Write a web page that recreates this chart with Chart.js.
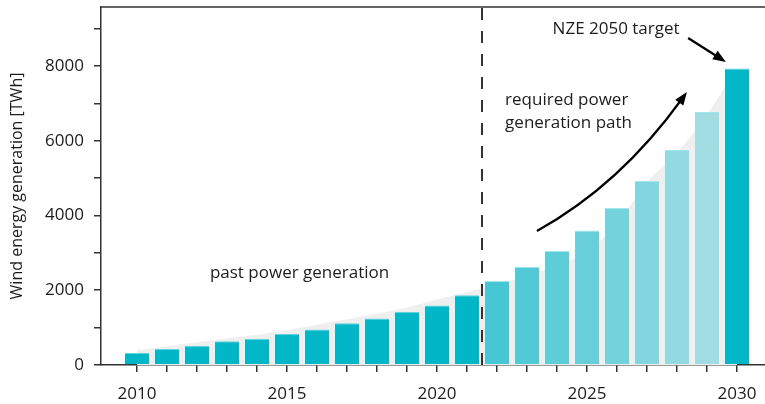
<!DOCTYPE html>
<html>
<head>
<meta charset="utf-8">
<script src="https://cdn.jsdelivr.net/npm/chart.js@4.4.1/dist/chart.umd.min.js"></script>
<style>
  html, body { margin: 0; padding: 0; background: #fff; }
  #wrap { width: 765px; height: 404px; }
</style>
</head>
<body>
<div id="wrap"><canvas id="chart"></canvas></div>
<script>
"use strict"

// wind generation per year, TWh (2010-2021 actual, 2022-2030 required path)
const years = [2010, 2011, 2012, 2013, 2014, 2015, 2016, 2017, 2018, 2019, 2020,
               2021, 2022, 2023, 2024, 2025, 2026, 2027, 2028, 2029, 2030]
const generation = [330, 425, 515, 634, 705, 830, 950, 1120, 1245, 1415, 1595,
                    1865, 2250, 2630, 3050, 3595, 4200, 4925, 5750, 6770, 7935]
// light grey "path" band behind the bars
const pathValues = [400, 500, 610, 715, 810, 930, 1080, 1225, 1370, 1540, 1750,
                    1950, 2150, 2390, 2650, 3070, 3780, 4900, 5680, 6700, 7950]

const xTickLabels = [2010, 2015, 2020, 2025, 2030]
const yTickLabels = [0, 2000, 4000, 6000, 8000]
const yTicks = [0, 1000, 2000, 3000, 4000, 5000, 6000, 7000, 8000, 9000]
const splitYear = 2021.5

const notes = [
    {text: "NZE 2050 target", x: 2025.97, y: 8990, align: "center"},
    {text: "required power", x: 2022.27, y: 7090, align: "left"},
    {text: "generation path", x: 2022.27, y: 6475, align: "left"},
    {text: "past power generation", x: 2012.43, y: 2460, align: "left"},
]
// arrows in data units: curved one has a control point
const curvedArrow = {from: [2023.33, 3585], ctrl: [2026.1, 4815], to: [2028.33, 7303]}
const straightArrow = {from: [2028.37, 8748], to: [2029.63, 8106]}

const barColors = ["#00b6c7", "#00b6c7", "#00b6c7", "#00b6c7", "#00b6c7", "#00b6c7",
    "#00b6c7", "#00b6c7", "#00b6c7", "#00b6c7", "#00b6c7", "#00b6c7",
    "#46c7d3", "#52cad6", "#5dcdd8", "#68cfda", "#74d2dc", "#83d6df", "#92d9e1", "#a1dce3",
    "#00b6c7"]
const barTops = barColors.map((c, i) => i >= 12 && i < 20 ? "#9fe6ee" : "#5fd3de")

const FONT = "'Open Sans', sans-serif"
const INK = "#1c1c1c"
const AXIS = "#333333"

function drawHead(ctx, fx, fy, tx, ty){
    const a = Math.atan2(ty - fy, tx - fx)
    const len = 13, half = 5
    ctx.beginPath()
    ctx.moveTo(tx, ty)
    ctx.lineTo(tx - len * Math.cos(a) + half * Math.sin(a), ty - len * Math.sin(a) - half * Math.cos(a))
    ctx.lineTo(tx - len * Math.cos(a) - half * Math.sin(a), ty - len * Math.sin(a) + half * Math.cos(a))
    ctx.closePath()
    ctx.fill()
}

const decorations = {
    id: "decorations",
    afterDatasetsDraw(chart){
        const ctx = chart.ctx
        const xs = chart.scales.x
        const ys = chart.scales.y
        const area = chart.chartArea
        const px = v => xs.getPixelForValue(v)
        const py = v => ys.getPixelForValue(v)

        ctx.save()
        // top frame line
        ctx.strokeStyle = AXIS
        ctx.lineWidth = 1.5
        ctx.beginPath()
        ctx.moveTo(area.left, area.top)
        ctx.lineTo(area.right, area.top)
        ctx.stroke()

        // split between past and required
        ctx.setLineDash([12, 11])
        ctx.lineWidth = 2
        ctx.beginPath()
        ctx.moveTo(px(splitYear), area.bottom)
        ctx.lineTo(px(splitYear), area.top)
        ctx.stroke()
        ctx.setLineDash([])

        // notes
        ctx.fillStyle = INK
        ctx.font = "17px " + FONT
        ctx.textBaseline = "middle"
        notes.forEach(n => {
            ctx.textAlign = n.align
            ctx.fillText(n.text, px(n.x), py(n.y))
        })

        // arrows
        ctx.strokeStyle = "#000"
        ctx.fillStyle = "#000"
        ctx.lineWidth = 2.2
        const c = curvedArrow
        const sx = px(c.from[0]), sy = py(c.from[1])
        const cx = px(c.ctrl[0]), cy = py(c.ctrl[1])
        const ex = px(c.to[0]), ey = py(c.to[1])
        const ca = Math.atan2(ey - cy, ex - cx)
        ctx.beginPath()
        ctx.moveTo(sx, sy)
        ctx.quadraticCurveTo(cx, cy, ex - 8 * Math.cos(ca), ey - 8 * Math.sin(ca))
        ctx.stroke()
        drawHead(ctx, cx, cy, ex, ey)

        const s = straightArrow
        const ax = px(s.from[0]), ay = py(s.from[1])
        const bx = px(s.to[0]), by = py(s.to[1])
        const sa = Math.atan2(by - ay, bx - ax)
        ctx.beginPath()
        ctx.moveTo(ax, ay)
        ctx.lineTo(bx - 8 * Math.cos(sa), by - 8 * Math.sin(sa))
        ctx.stroke()
        drawHead(ctx, ax, ay, bx, by)
        ctx.restore()
    }
}

const config = {
    type: "bar",
    data: {
        datasets: [
            {
                type: "bar",
                label: "generation",
                data: years.map((y, i) => ({x: y, y: generation[i]})),
                backgroundColor: barColors,
                borderColor: barTops,
                borderWidth: {top: 1, left: 0, right: 0, bottom: 0},
                borderSkipped: "start",
                barPercentage: 0.8,
                categoryPercentage: 1.0,
                order: 1,
            },
            {
                type: "line",
                label: "path",
                data: years.map((y, i) => ({x: y, y: pathValues[i]})),
                backgroundColor: "#efefef",
                borderWidth: 0,
                pointRadius: 0,
                fill: "origin",
                cubicInterpolationMode: "monotone",
                order: 2,
            },
        ]
    },
    options: {
        responsive: true,
        maintainAspectRatio: false,
        animation: false,
        layout: {padding: {top: 7, right: 0, left: 0, bottom: 0}},
        plugins: {legend: {display: false}, tooltip: {enabled: false}},
        scales: {
            x: {
                type: "linear",
                min: 2008.8,
                max: 2030.933,
                offset: false,
                grid: {display: true, drawOnChartArea: false, offset: false, tickLength: 7, color: AXIS, lineWidth: 1.5},
                border: {display: true, color: AXIS, width: 1.5},
                afterBuildTicks(scale){ scale.ticks = years.map(v => ({value: v})) },
                afterFit(scale){
                    scale.height = 39
                    scale.paddingLeft = 0
                    scale.paddingRight = 0
                },
                ticks: {
                    autoSkip: false,
                    maxRotation: 0,
                    padding: 12,
                    color: INK,
                    font: {family: FONT, size: 17},
                    callback: v => xTickLabels.includes(v) ? String(v) : "",
                },
            },
            y: {
                type: "linear",
                min: 0,
                max: 9577,
                grid: {display: true, drawOnChartArea: false, tickLength: 7, color: AXIS, lineWidth: 1.5},
                border: {display: true, color: AXIS, width: 1.5},
                afterBuildTicks(scale){ scale.ticks = yTicks.map(v => ({value: v})) },
                afterFit(scale){
                    scale.width = 101
                    scale.paddingTop = 0
                    scale.paddingBottom = 0
                },
                ticks: {
                    autoSkip: false,
                    padding: 10,
                    color: INK,
                    font: {family: FONT, size: 17},
                    callback: v => yTickLabels.includes(v) ? String(v) : "",
                },
                title: {
                    display: true,
                    text: "Wind energy generation [TWh]",
                    color: INK,
                    font: {family: FONT, size: 16},
                    padding: {top: 8, bottom: 0},
                },
            },
        },
    },
    plugins: [decorations],
}

const generationChart = new Chart(document.getElementById("chart"), config)
</script>
</body>
</html>
